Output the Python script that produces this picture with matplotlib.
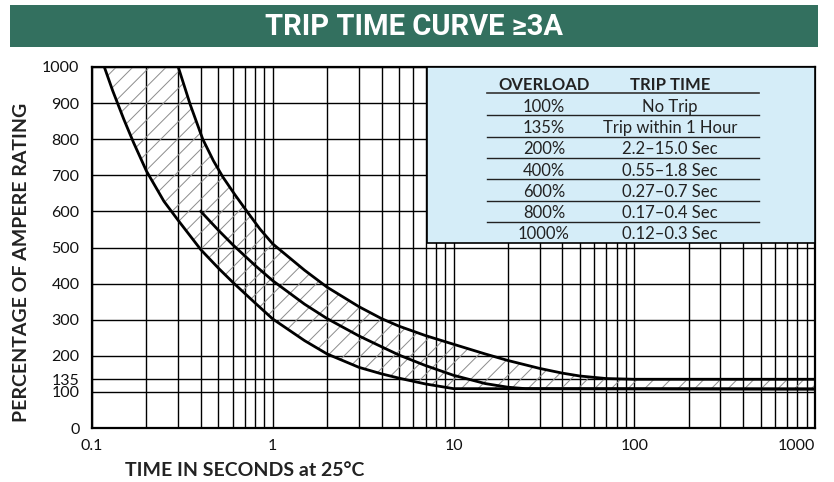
import matplotlib
matplotlib.use('Agg')
import matplotlib.pyplot as plt
from matplotlib.patches import Rectangle
from matplotlib.lines import Line2D
from matplotlib.ticker import LogLocator, NullFormatter
import numpy as np

# trip curve readings (time in s, % of ampere rating)
lower_t = [0.117, 0.13, 0.15, 0.17, 0.2, 0.25, 0.3, 0.4, 0.5, 0.6, 0.8, 1.0,
           1.5, 2.0, 3.0, 4.0, 5.0, 7.0, 10.0, 1000]
lower_pct = [1000, 935, 855, 790, 712, 628, 575, 494, 443, 404, 346, 302,
             242, 205, 168, 150, 138, 122, 109, 108]

middle_t = [0.4, 0.5, 0.6, 0.8, 1.0, 1.5, 2.0, 3.0, 4.0, 5.0, 7.0, 10.0,
            15.0, 20.0, 25.0, 1000]
middle_pct = [600, 548, 508, 450, 408, 343, 303, 255, 225, 202, 173, 146,
              123, 113, 109, 108]

upper_t = [0.3, 0.35, 0.41, 0.47, 0.53, 0.62, 0.72, 0.85, 1.0, 1.5, 2.0, 3.0,
           4.0, 5.0, 7.0, 10.0, 15.0, 20.0, 30.0, 40.0, 50.0, 70.0, 100.0, 1000]
upper_pct = [1000, 895, 800, 740, 695, 645, 600, 551, 510, 437, 390, 336,
             303, 282, 256, 232, 205, 187, 165, 152, 144, 137, 135, 135]

x_ticks = [0.1, 1, 10, 100, 1000]
x_labels = ['0.1', '1', '10', '100', '1000']
y_ticks = [0, 100, 135, 200, 300, 400, 500, 600, 700, 800, 900, 1000]
y_labels = [str(v) for v in y_ticks]

overload = ['100%', '135%', '200%', '400%', '600%', '800%', '1000%']
trip_time = ['No Trip', 'Trip within 1 Hour', '2.2\u201315.0 Sec',
             '0.55\u20131.8 Sec', '0.27\u20130.7 Sec', '0.17\u20130.4 Sec',
             '0.12\u20130.3 Sec']

W, H = 834, 482


def fx(px):
    return px / W


def fy(py):
    return 1 - py / H


plt.rcParams['font.family'] = ['Lato', 'DejaVu Sans']
plt.rcParams['hatch.linewidth'] = 0.7

fig = plt.figure(figsize=(W / 100, H / 100), dpi=100)
fig.patch.set_facecolor('white')

# title banner
fig.add_artist(Rectangle((fx(10), fy(47)), fx(818) - fx(10), fy(5) - fy(47),
                         transform=fig.transFigure, facecolor='#33705f',
                         edgecolor='none'))
fig.text(fx(414), fy(27), 'TRIP TIME CURVE \u22653A', color='white',
         fontsize=21, fontweight='bold', family=['Roboto', 'DejaVu Sans'],
         ha='center', va='center')

ax_l, ax_r, ax_t, ax_b = 92, 815, 67, 428
ax = fig.add_axes([fx(ax_l), fy(ax_b), fx(ax_r) - fx(ax_l), fy(ax_t) - fy(ax_b)])
ax.set_xscale('log')
ax.set_xlim(0.1, 1000)
ax.set_ylim(0, 1000)

ax.set_xticks(x_ticks)
ax.set_xticklabels(x_labels)
ax.xaxis.set_minor_locator(LogLocator(base=10, subs=np.arange(2, 10)))
ax.xaxis.set_minor_formatter(NullFormatter())
ax.set_yticks(y_ticks)
ax.set_yticklabels(y_labels)
ax.tick_params(which='both', length=0, labelsize=11.5, colors='#111111')
ax.tick_params(axis='x', pad=8)
ax.tick_params(axis='y', pad=9)
ax.get_xticklabels()[-1].set_horizontalalignment('right')
ax.get_xticklabels()[-1].set_x(1000)
ax.grid(True, which='both', axis='x', color='black', lw=1.0)
ax.grid(True, which='major', axis='y', color='black', lw=1.0)
ax.set_axisbelow(True)
for s in ax.spines.values():
    s.set_linewidth(1.6)
    s.set_color('black')

# hatched band between fastest and slowest curve
band_t = lower_t + upper_t[::-1]
band_p = lower_pct + upper_pct[::-1]
ax.fill(band_t, band_p, facecolor='none', edgecolor='#8c8c8c', hatch='//',
        lw=0, zorder=2)

ax.plot(lower_t, lower_pct, color='black', lw=2, zorder=3)
ax.plot(middle_t, middle_pct, color='black', lw=2, zorder=3)
ax.plot(upper_t, upper_pct, color='black', lw=2, zorder=3)

# table box
box_left = (427 - ax_l) / (ax_r - ax_l)
box_bottom = (ax_b - 243) / (ax_b - ax_t)
ax.add_patch(Rectangle((box_left, box_bottom), 1 - box_left, 1 - box_bottom,
                       transform=ax.transAxes, facecolor='#d5edf8',
                       edgecolor='black', lw=1.2, zorder=5))

col1, col2 = 544, 670
fig.text(fx(col1), fy(85), 'OVERLOAD', fontsize=12, fontweight='bold',
         ha='center', va='center', color='#222222', zorder=6)
fig.text(fx(col2), fy(85), 'TRIP TIME', fontsize=12, fontweight='bold',
         ha='center', va='center', color='#222222', zorder=6)
fig.add_artist(Line2D([fx(487), fx(759)], [fy(93), fy(93)],
                      transform=fig.transFigure, color='#333333', lw=1.2))

row_y = [107, 128, 149, 171, 192, 213, 234]
line_y = [115, 137, 158, 179, 201, 222]
for i, (o, t) in enumerate(zip(overload, trip_time)):
    fig.text(fx(col1), fy(row_y[i]), o, fontsize=12, ha='center',
             va='center', color='#222222', zorder=6)
    fig.text(fx(col2), fy(row_y[i]), t, fontsize=12, ha='center',
             va='center', color='#222222', zorder=6)
for ly in line_y:
    fig.add_artist(Line2D([fx(487), fx(759)], [fy(ly), fy(ly)],
                          transform=fig.transFigure, color='#222222', lw=1.0))

fig.text(fx(22), fy(262), 'PERCENTAGE OF AMPERE RATING', rotation=90,
         fontsize=14, fontweight='bold', ha='center', va='center',
         color='#222222')
fig.text(fx(125), fy(470), 'TIME IN SECONDS at 25\u00b0C', fontsize=14,
         fontweight='bold', ha='left', va='center', color='#222222')

fig.savefig('out.png', dpi=100)
